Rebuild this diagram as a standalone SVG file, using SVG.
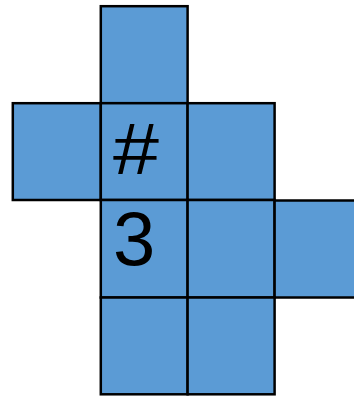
<svg xmlns="http://www.w3.org/2000/svg" width="354" height="396" viewBox="0 0 354 396">
<style>
.c{fill:#5B9BD5;stroke:#000;stroke-width:2.5}
.t{font-family:"Liberation Sans",Arial,sans-serif;fill:#000}
</style>
<rect width="354" height="396" fill="#fff"/>
<g id="n1"><rect class="c" x="100.8" y="6.2" width="86.8" height="97"/></g>
<g id="n2"><rect class="c" x="12.8" y="103.2" width="88" height="96.8"/></g>
<g id="n3"><rect class="c" x="100.8" y="103.2" width="86.8" height="96.8"/><text class="t" x="113" y="174" font-size="72" textLength="46" lengthAdjust="spacingAndGlyphs">#</text></g>
<g id="n4"><rect class="c" x="187.6" y="103.2" width="87" height="96.8"/></g>
<g id="n5"><rect class="c" x="100.8" y="200" width="86.8" height="97.5"/><text class="t" x="113" y="265" font-size="76">3</text></g>
<g id="n6"><rect class="c" x="187.6" y="200" width="87" height="97.5"/></g>
<g id="n7"><rect class="c" x="274.6" y="200.5" width="90" height="97"/></g>
<g id="n8"><rect class="c" x="100.8" y="297.5" width="86.8" height="96.8"/></g>
<g id="n9"><rect class="c" x="187.6" y="297.5" width="87" height="96.8"/></g>
<g id="connectors"/>
</svg>
